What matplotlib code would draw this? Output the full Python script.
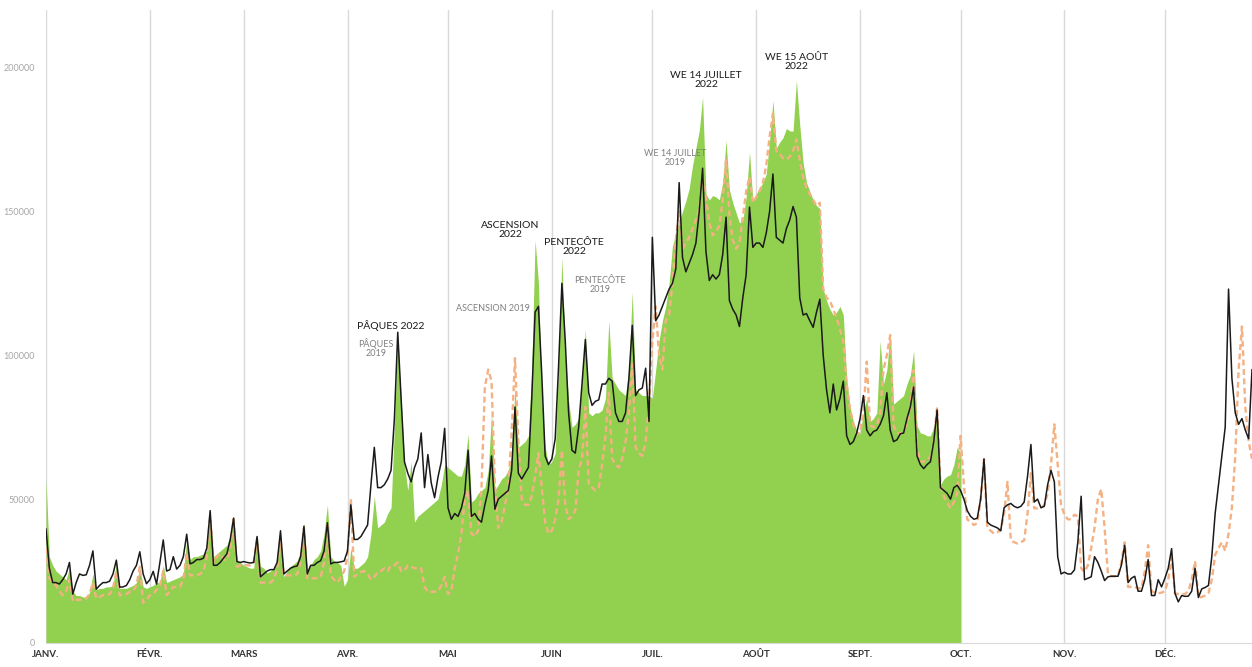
import numpy as np
import matplotlib
matplotlib.use("Agg")
from matplotlib import pyplot as plt

# daily values (thousands), day 0 = 1 January
# black line: reference year
black = [
    # jan
    39.6, 26, 21, 21, 20.5, 22, 24, 28, 17, 21, 24, 23.5, 23.7, 27, 32, 18.7, 20, 21, 21, 21.5,
    24, 28.8, 19.4, 19.5, 20, 22, 25, 27, 31.7, 24, 20.6,
    # feb
    22, 24.9, 20.5, 28, 35.8, 25, 25.5, 30, 25.7, 27, 30, 37.8, 27.5, 28, 29, 29, 29.5, 33, 46, 27,
    27, 28, 29.5, 31, 36, 43.4, 28.3, 28,
    # mar
    28.3, 28, 27.8, 28, 37, 23, 24, 25, 25.5, 25.5, 28, 39, 24, 25, 26, 26.5, 26.8, 30, 40.6, 24,
    27, 27, 28, 28.6, 32, 41.8, 27.5, 28, 28, 28.2, 28.5,
    # apr
    32, 48, 36, 36, 37, 39, 41, 55, 68, 54, 54, 55, 57, 60, 78, 108, 85, 63, 59, 56,
    61, 64, 73, 54, 65.5, 55.6, 50.5, 57.6, 63, 74.6,
    # may
    47, 43, 45, 44, 47, 52, 67, 44, 45, 43, 42, 48, 53, 65, 46.5, 50, 51, 52, 53, 60,
    82, 59, 57, 59, 61, 85, 115, 117, 93, 65, 62,
    # jun
    64, 71, 96, 125, 105, 80, 67, 66, 75, 90, 105.5, 87, 82.6, 84, 84.5, 90, 90, 92, 91, 80,
    77, 77, 80, 92, 110.4, 86, 88, 88.6, 95.5, 77,
    # jul
    141, 112, 114, 117, 120, 123, 125, 130, 160, 134, 129, 132, 135, 139, 150, 165, 136, 126, 128, 126.5,
    128, 135, 148, 119, 116, 114, 110, 120, 128, 151.5, 137.5,
    # aug
    139, 139, 137.5, 142.5, 150, 163, 141, 140, 139, 144, 147, 151.7, 148, 120, 114, 114.5, 112, 109.7, 115, 119.5,
    100, 88, 80, 90, 81, 85, 91, 72, 69, 70, 73,
    # sep
    78, 86, 74, 72, 73.5, 74, 76, 79, 87, 74, 70, 70.6, 72.7, 73, 78, 82, 89, 65, 62, 60.6,
    62, 63, 70, 81, 54, 53, 52, 50, 54, 54.8,
    # oct
    53, 50, 46, 44, 43, 43.4, 50, 64, 42, 41, 40.5, 40, 39, 47, 48, 48.5, 47.5, 47, 47.5, 49,
    58, 69, 49, 50, 47, 47.5, 55, 60, 56, 30, 24,
    # nov
    24.6, 24, 24, 25.4, 35, 51, 22, 22.5, 23, 30, 28, 25, 21.7, 23, 23.2, 23.2, 23.2, 27, 34, 21,
    22.5, 23.2, 18, 18, 22, 29, 16.5, 16.5, 22, 19.5,
    # dec
    22.5, 26, 32.8, 17.3, 14.3, 16.5, 16.2, 16.3, 18, 26, 15.8, 18.8, 19.3, 20, 30, 45, 55, 65, 75, 123,
    92, 80, 76, 78, 74, 71, 95,
]

# dashed orange: 2019
y2019 = [
    # jan
    33, 22.5, 21, 20, 18, 16.6, 18, 22, 14.5, 15, 15, 15, 15.5, 17, 21, 15.5, 16, 16.6, 16.6, 17,
    19, 25, 16.6, 16.6, 17, 17.8, 18, 20, 26.5, 14, 15,
    # feb
    16.6, 17, 18.5, 20, 25, 16.6, 18, 19.5, 19.5, 19.5, 22, 31.5, 23.5, 23.5, 23.5, 24, 25, 30, 44, 28,
    30, 31, 29, 29, 33, 43, 26.5, 27,
    # mar
    27, 27, 27, 28, 36, 21, 21, 21, 21, 22, 26, 36, 23.5, 23.5, 23.5, 23.5, 24, 28, 40, 22.5,
    22.5, 22.5, 22.5, 23, 28, 41, 23.5, 22, 21, 23, 25,
    # apr
    30, 50, 23, 24, 24.7, 25, 24, 22, 23, 24.7, 25, 26, 25, 27, 27, 28, 25, 25, 27, 26.5,
    26, 26, 26, 19.5, 17.8, 17.8, 17.8, 18, 20, 23,
    # may
    17, 18, 26, 31, 38, 50, 53, 38, 37, 39, 54, 89, 95, 91, 55, 40, 42, 48, 54, 73,
    99, 70, 50, 48, 48, 51, 58, 66, 54, 42, 38,
    # jun
    39, 43, 50, 67, 48, 43, 44, 46, 60, 64, 82, 55, 54, 53, 54, 62, 72, 87, 64, 62,
    61, 64, 70, 80, 97, 68, 66, 65, 70, 83,
    # jul
    105, 117, 100, 95, 112, 114, 125, 140, 150, 137, 139, 141, 144, 147, 151, 162, 155, 146, 141.7, 143,
    145, 154, 168, 149, 140, 137, 139, 148, 157, 162, 153,
    # aug
    155, 157, 160, 166, 176, 184, 171, 170, 168.5, 168, 169, 171, 175, 168, 162, 158, 156, 154, 152, 153,
    123, 120, 119, 116, 113, 109, 105, 90, 81.5, 76, 72.7,
    # sep
    73, 80, 97.8, 75.6, 75, 75.6, 80, 95, 100, 107, 75.6, 73, 72.7, 74, 76, 82, 94.8, 68, 63, 63,
    64, 64.5, 70, 82, 55, 51, 49, 46.8, 49, 52,
    # oct
    72, 55, 43, 42, 41, 41.7, 50, 63.8, 40, 39, 38, 38.5, 39.4, 45, 56, 35.7, 35, 34.6, 35, 35.7,
    45, 59, 46.8, 46.8, 47, 48, 52, 62, 76, 62, 48,
    # nov
    44.6, 43, 43, 44.6, 44, 26, 24.7, 27, 33, 40, 50, 53.5, 40, 24, 23.2, 23.2, 23.2, 28, 35, 19.5,
    19.5, 19.5, 19, 19, 25, 34, 18, 17.5, 17.3, 17.5,
    # dec
    18, 22, 29.8, 17.3, 17, 17, 17, 18, 22, 28.4, 15.8, 16, 16.5, 17.3, 22, 30.6, 33, 35, 32, 38,
    47, 65, 95, 110, 82, 70, 64,
]

# green area: 2022 (jan -> 1 oct)
y2022 = [
    # jan
    57, 30, 27, 25, 24, 23, 22, 26, 18, 16.5, 16.5, 16, 16, 17.5, 24, 18.5, 19, 19, 19.5, 19.5,
    20, 28, 19, 19, 19, 19.5, 20, 21, 26, 19.5, 19,
    # feb
    19.5, 20, 21, 21, 27, 21, 21.5, 22, 22.5, 23, 24, 36, 29, 30, 30, 30.5, 31, 32, 45, 30,
    31, 32, 33, 34, 37, 44, 29, 28,
    # mar
    27, 26.5, 26, 26, 37.5, 26.7, 26, 24.4, 25, 26, 28, 37.5, 23, 25, 26.7, 27.5, 28.5, 32, 41.6, 25.7,
    27, 29, 30, 32, 38, 48, 30, 28.5, 28, 27, 19.7,
    # apr
    22, 33, 26, 26, 27, 28, 30, 38, 51, 40, 41, 42, 45, 47, 75, 106, 85, 62, 53, 63,
    42, 44, 45, 46, 47, 48, 49, 50, 55, 62,
    # may
    61, 60, 59, 58, 58, 62, 72.5, 49, 50, 52, 53, 54, 60, 79.7, 53, 55, 57, 58, 60, 65,
    89, 68, 69, 70, 72, 95, 140, 125, 85, 68, 62,
    # jun
    63, 66, 96, 134, 100, 84, 75, 76, 78, 90, 109, 80, 79, 80, 80, 81, 85, 112, 92, 90,
    88, 87, 86, 95, 122, 88, 87, 86, 86, 86,
    # jul
    85, 95, 105, 112, 117, 125, 138, 142, 146, 150, 153.6, 158, 166, 172, 178, 189.7, 156, 154, 155.5, 155,
    154, 160, 174.6, 157.5, 153, 149.5, 146, 147, 155, 170.6, 153.6,
    # aug
    156, 158, 160, 163, 174.6, 188.5, 172, 174, 175.6, 178.8, 178, 177.9, 195.5, 180, 167, 160, 157, 154, 152, 151,
    123, 119, 116, 114, 115, 117, 114, 92, 82, 77, 74,
    # sep
    72.7, 80, 85, 77, 78, 80, 105, 90, 95, 108, 83, 84, 85, 86, 90, 93, 101.5, 75.6, 73, 72.7,
    72, 72, 75, 81.5, 55, 57, 58, 58.5, 62, 68,
    # 1 oct
    66,
]

months = ["JANV.", "FÉVR.", "MARS", "AVR.", "MAI", "JUIN",
          "JUIL.", "AOÛT", "SEPT.", "OCT.", "NOV.", "DÉC."]
month_start = [0, 31, 59, 90, 120, 151, 181, 212, 243, 273, 304, 334]

# annotations: (text, day, value in thousands, dark?)
notes = [
    ("PÂQUES 2022", 103, 110.4, True),
    ("PÂQUES\n2019", 98.6, 102.4, False),
    ("ASCENSION 2019", 133.5, 116.3, False),
    ("ASCENSION\n2022", 138.6, 143.7, True),
    ("PENTECÔTE\n2022", 157.7, 137.8, True),
    ("PENTECÔTE\n2019", 165.5, 124.3, False),
    ("WE 14 JUILLET\n2019", 187.9, 168.4, False),
    ("WE 14 JUILLET\n2022", 197.0, 195.7, True),
    ("WE 15 AOÛT\n2022", 224.0, 201.9, True),
]

plt.rcParams['font.family'] = ['Lato', 'DejaVu Sans']

fig = plt.figure(figsize=(12.52, 6.67), dpi=100)
ax = fig.add_axes([46 / 1252, 24 / 667, 1 - 46 / 1252, 633 / 667])

d_black = np.arange(len(black))
d_2019 = np.arange(len(y2019))
d_2022 = np.arange(len(y2022))

ax.fill_between(d_2022, np.array(y2022) * 1000, 0, color="#92d050", lw=0, zorder=1)
ax.plot(d_2019, np.array(y2019) * 1000, color="#f4b183", lw=1.7, ls=(0, (2.5, 1.5)), zorder=2)
ax.plot(d_black, np.array(black) * 1000, color="#1a1a1a", lw=1.1, zorder=3)

for txt, d, v, dark in notes:
    if dark:
        ax.text(d, v * 1000, txt, ha="center", va="center", fontsize=7.5,
                color="#1a1a1a", linespacing=1.0, zorder=4)
    else:
        ax.text(d, v * 1000, txt, ha="center", va="center", fontsize=6.5,
                color="#7f7f7f", linespacing=1.0, zorder=4)

ax.set_xlim(0, 360)
ax.set_ylim(0, 220000)
ax.set_xticks(month_start)
ax.set_xticklabels(months, fontsize=7, fontweight="bold", color="#333333")
ax.set_yticks([0, 50000, 100000, 150000, 200000])
ax.set_yticklabels(["0", "50000", "100000", "150000", "200000"], fontsize=6.5, color="#a6a6a6")
ax.tick_params(axis="both", length=0)
ax.tick_params(axis="x", pad=5)
ax.tick_params(axis="y", pad=8)
ax.grid(axis="x", color="#d9d9d9", lw=1, zorder=0)
ax.set_axisbelow(True)
for s in ["top", "right", "left"]:
    ax.spines[s].set_visible(False)
ax.spines["bottom"].set_color("#d9d9d9")

fig.savefig("out.png", dpi=100)
